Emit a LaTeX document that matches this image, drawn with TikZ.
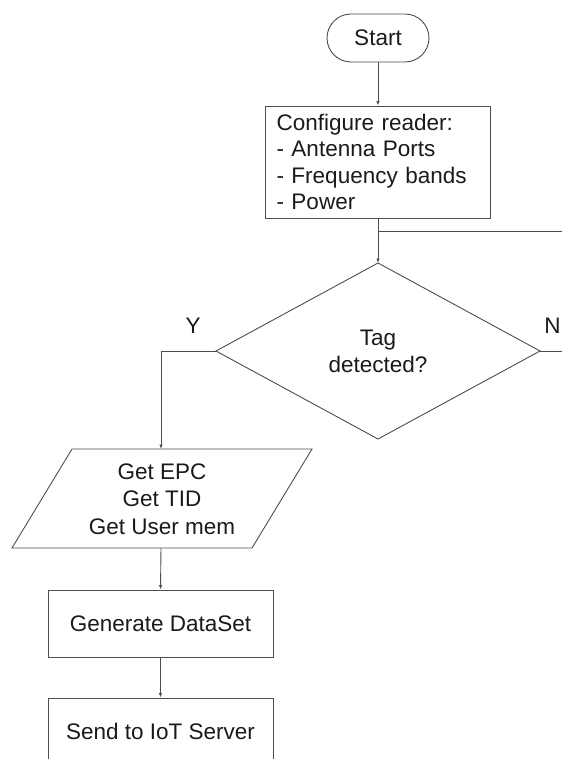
\documentclass[tikz,border=0pt]{standalone}
\usepackage{fontspec}
\setmainfont{Liberation Sans}
\usetikzlibrary{arrows.meta}
\definecolor{ln}{HTML}{4D4D4D}
\definecolor{tx}{HTML}{1A1A1A}
\begin{document}
\begin{tikzpicture}[x=1pt,y=-1pt,
  every node/.style={font=\fontsize{22.5}{26.5}\selectfont, text=tx},
  box/.style={draw=ln, line width=0.9pt, rectangle, inner sep=0pt},
  conn/.style={draw=ln, line width=0.9pt},
  arr/.style={conn, -{Latex[length=4.5pt,width=3.5pt]}},
]
\useasboundingbox (0,0) rectangle (562,759);
% nodes
\node[box, rounded corners=24pt, minimum width=102pt, minimum height=48pt] (start) at (378,38) {Start};
\node[box, minimum width=225pt, minimum height=112pt, text width=203pt, align=left] (cfg) at (378,162) {Configure reader:\\- Antenna Ports\\- Frequency bands\\- Power};
% decision
\coordinate (dT) at (378,263);
\coordinate (dL) at (216,351);
\coordinate (dR) at (540,351);
\coordinate (dB) at (378,439);
\draw[conn] (dT) -- (dR) -- (dB) -- (dL) -- cycle;
\node[align=center, font=\fontsize{22.5}{27}\selectfont] (dtext) at (378,351) {Tag\\detected?};
% parallelogram
\coordinate (pTL) at (72,449);
\coordinate (pTR) at (312,449);
\coordinate (pBR) at (252,548);
\coordinate (pBL) at (12,548);
\coordinate (pTop) at (161,449);
\coordinate (pBot) at (161,548);
\draw[conn] (pTL) -- (pTR) -- (pBR) -- (pBL) -- cycle;
\node[align=center, font=\fontsize{22.5}{27.5}\selectfont] (get) at (162,499) {Get EPC\\Get TID\\Get User mem};
\node[box, minimum width=225pt, minimum height=67pt] (gen) at (160.5,623.5) {Generate DataSet};
\node[box, minimum width=225pt, minimum height=67pt] (send) at (160.5,731.5) {Send to IoT Server};
% labels
\node (ylab) at (193,326) {Y};
\node (nlab) at (552.5,326) {N};
% connectors
\coordinate (loopR) at (562,231);
\coordinate (loopJ) at (378,231);
\coordinate (nR) at (562,351);
\coordinate (yK) at (161,351);
\draw[arr] (start.south) -- (cfg.north);
\draw[arr] (cfg.south) -- (dT);
\draw[conn] (loopR) -- (loopJ);
\draw[conn] (dR) -- (nR);
\draw[arr] (dL) -- (yK) -- (pTop);
\draw[arr] (pBot) -- (gen.north);
\draw[arr] (gen.south) -- (send.north);
\end{tikzpicture}
\end{document}
